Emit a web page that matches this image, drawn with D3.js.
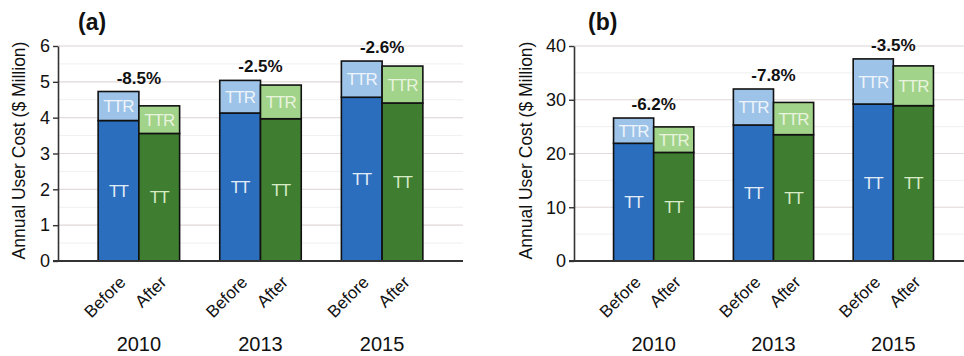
<!DOCTYPE html>
<html>
<head>
<meta charset="utf-8">
<script src="https://cdn.jsdelivr.net/npm/d3@7"></script>
<style>
  html, body { margin: 0; padding: 0; background: #fff; }
  svg { display: block; font-family: "Liberation Sans", Arial, sans-serif; }
</style>
</head>
<body>
<svg id="chart" width="964" height="356"></svg>
<script>
// Shared categories
const years = ["2010", "2013", "2015"];
const phases = ["Before", "After"];

// Panel (a): annual user cost, $ million
const aBeforeTT  = [3.92, 4.13, 4.57];
const aBeforeTTR = [0.81, 0.91, 1.01];
const aAfterTT   = [3.56, 3.97, 4.41];
const aAfterTTR  = [0.77, 0.94, 1.03];
const aChange    = ["-8.5%", "-2.5%", "-2.6%"];
const aTicks     = [0, 1, 2, 3, 4, 5, 6];

// Panel (b): annual user cost, $ million
const bBeforeTT  = [21.9, 25.3, 29.2];
const bBeforeTTR = [4.7, 6.7, 8.4];
const bAfterTT   = [20.2, 23.5, 28.9];
const bAfterTTR  = [4.75, 6.0, 7.4];
const bChange    = ["-6.2%", "-7.8%", "-3.5%"];
const bTicks     = [0, 10, 20, 30, 40];

const colors = {
  Before: { TT: "#2a6ebd", TTR: "#9dc3e8" },
  After:  { TT: "#3f7d30", TTR: "#a2d38a" }
};
const labelColors = {
  Before: { TT: "#e4ecf8", TTR: "#eef4fb" },
  After:  { TT: "#d8ecc8", TTR: "#e8f4de" }
};

const svg = d3.select("#chart");

function drawPanel(opt) {
  const g = svg.append("g");
  const y = d3.scaleLinear().domain([0, opt.max]).range([opt.bottom, opt.top]);
  const x = d3.scaleBand().domain(years).range([opt.left, opt.right])
    .paddingInner(0.33).paddingOuter(0.33);
  const xi = d3.scaleBand().domain(phases).range([0, x.bandwidth()]);

  // Minor and major gridlines
  const minor = d3.range(0, opt.max + 1e-9, opt.minorStep);
  g.append("g").selectAll("line").data(minor).join("line")
    .attr("x1", opt.left).attr("x2", opt.right)
    .attr("y1", d => y(d)).attr("y2", d => y(d))
    .attr("stroke", "#f1efef").attr("stroke-width", 1);
  g.append("g").selectAll("line").data(opt.ticks.slice(1)).join("line")
    .attr("x1", opt.left).attr("x2", opt.right)
    .attr("y1", d => y(d)).attr("y2", d => y(d))
    .attr("stroke", "#e4dcdc").attr("stroke-width", 1.2);

  // Stacked bars
  const rows = [];
  years.forEach((yr, i) => {
    phases.forEach(ph => {
      const tt = ph === "Before" ? opt.beforeTT[i] : opt.afterTT[i];
      const ttr = ph === "Before" ? opt.beforeTTR[i] : opt.afterTTR[i];
      rows.push({ yr, ph, seg: "TT", y0: 0, y1: tt });
      rows.push({ yr, ph, seg: "TTR", y0: tt, y1: tt + ttr });
    });
  });

  g.append("g").selectAll("rect").data(rows).join("rect")
    .attr("x", d => x(d.yr) + xi(d.ph))
    .attr("width", xi.bandwidth())
    .attr("y", d => y(d.y1))
    .attr("height", d => y(d.y0) - y(d.y1))
    .attr("fill", d => colors[d.ph][d.seg])
    .attr("stroke", "#111").attr("stroke-width", 1.6);

  g.append("g").selectAll("text").data(rows).join("text")
    .attr("x", d => x(d.yr) + xi(d.ph) + xi.bandwidth() / 2)
    .attr("y", d => y((d.y0 + d.y1) / 2))
    .attr("dy", "0.36em")
    .attr("text-anchor", "middle")
    .attr("font-size", 17)
    .attr("letter-spacing", -1)
    .attr("fill", d => labelColors[d.ph][d.seg])
    .text(d => d.seg);

  // Percent change above each pair
  g.append("g").selectAll("text").data(years).join("text")
    .attr("x", d => x(d) + x.bandwidth() / 2)
    .attr("y", (d, i) => y(Math.max(opt.beforeTT[i] + opt.beforeTTR[i], opt.afterTT[i] + opt.afterTTR[i])) - 8)
    .attr("text-anchor", "middle")
    .attr("font-size", 17).attr("font-weight", "bold")
    .attr("fill", "#111")
    .text((d, i) => opt.change[i]);

  // Y axis
  const yAxis = d3.axisLeft(y).tickValues(opt.ticks).tickFormat(d3.format("d"))
    .tickSize(5).tickSizeOuter(0);
  const ya = g.append("g").attr("transform", `translate(${opt.left},0)`).call(yAxis);
  ya.select(".domain").attr("stroke", "#333").attr("stroke-width", 1.6);
  ya.selectAll(".tick line").attr("stroke", "#333").attr("stroke-width", 1.4);
  ya.selectAll(".tick text").attr("font-size", 18).attr("fill", "#111")
    .attr("font-family", "Liberation Sans, Arial, sans-serif").attr("x", -8);

  // Baseline
  g.append("line")
    .attr("x1", opt.left - 5).attr("x2", opt.right)
    .attr("y1", y(0)).attr("y2", y(0))
    .attr("stroke", "#333").attr("stroke-width", 1.8);

  // Phase labels, rotated
  const ph = [];
  years.forEach(yr => phases.forEach(p => ph.push({ yr, p })));
  g.append("g").selectAll("text").data(ph).join("text")
    .attr("transform", d => `translate(${x(d.yr) + xi(d.p) + xi.bandwidth() / 2 + 1},${y(0) + 15}) rotate(-45)`)
    .attr("text-anchor", "end")
    .attr("dy", "0.6em")
    .attr("font-size", 17).attr("fill", "#111")
    .text(d => d.p);

  // Year labels
  g.append("g").selectAll("text").data(years).join("text")
    .attr("x", d => x(d) + x.bandwidth() / 2)
    .attr("y", 351)
    .attr("text-anchor", "middle")
    .attr("font-size", 20).attr("fill", "#111")
    .text(d => d);

  // Axis title
  g.append("text")
    .attr("transform", `translate(${opt.titleX},${(opt.top + opt.bottom) / 2 - 3}) rotate(-90)`)
    .attr("text-anchor", "middle")
    .attr("dy", "0.35em")
    .attr("font-size", 17.5).attr("fill", "#111")
    .text("Annual User Cost ($ Million)");

  // Panel tag
  g.append("text")
    .attr("x", opt.tagX).attr("y", 30)
    .attr("font-size", 23).attr("font-weight", "bold").attr("fill", "#111")
    .text(opt.tag);
}

drawPanel({
  tag: "(a)", tagX: 78, titleX: 19,
  left: 58, right: 463, top: 46, bottom: 261, max: 6, minorStep: 0.5,
  ticks: aTicks, change: aChange,
  beforeTT: aBeforeTT, beforeTTR: aBeforeTTR, afterTT: aAfterTT, afterTTR: aAfterTTR
});

drawPanel({
  tag: "(b)", tagX: 588, titleX: 526,
  left: 574, right: 973, top: 46, bottom: 261, max: 40, minorStep: 5,
  ticks: bTicks, change: bChange,
  beforeTT: bBeforeTT, beforeTTR: bBeforeTTR, afterTT: bAfterTT, afterTTR: bAfterTTR
});
</script>
</body>
</html>
